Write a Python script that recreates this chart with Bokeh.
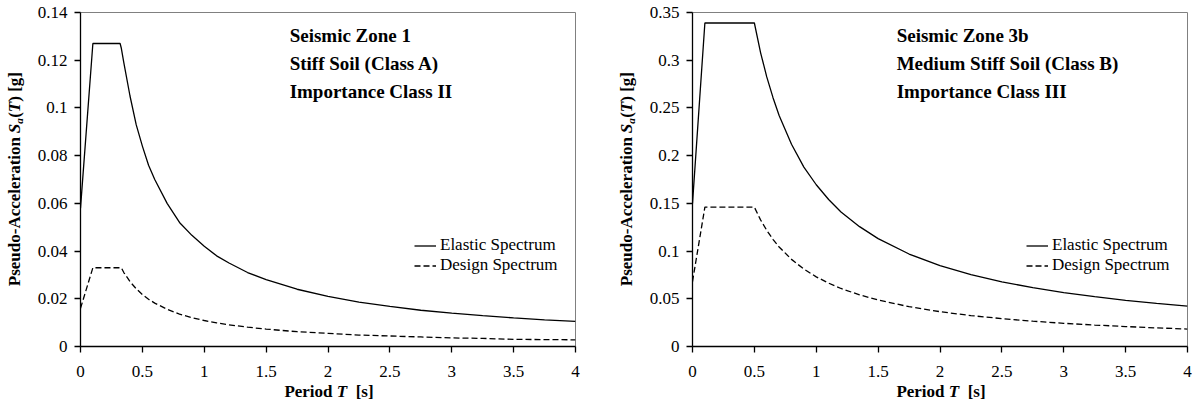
from bokeh.plotting import figure
from bokeh.layouts import row, column
from bokeh.models import Range1d, FixedTicker, NumeralTickFormatter, Legend, LegendItem, Label, Div
from bokeh.embed import file_html
from bokeh.resources import INLINE

# ---- Data ----
# Zone 1, Soil A, Importance II
period_1 = [0, 0.1, 0.32, 0.33, 0.35, 0.4, 0.45, 0.5, 0.55, 0.6, 0.7, 0.8, 0.9, 1.0,
            1.1, 1.2, 1.35, 1.5, 1.75, 2.0, 2.25, 2.5, 2.75, 3.0, 3.25, 3.5, 3.75, 4.0]
elastic_1 = [0.058, 0.127, 0.127, 0.125, 0.119, 0.105, 0.093, 0.084, 0.076, 0.070, 0.060,
             0.052, 0.0466, 0.042, 0.038, 0.035, 0.031, 0.028, 0.024, 0.021, 0.0186, 0.0168,
             0.0152, 0.014, 0.0129, 0.012, 0.0112, 0.0105]
design_1 = [0.016, 0.033, 0.033, 0.033, 0.031, 0.0272, 0.0242, 0.0218, 0.0198, 0.0182, 0.0156,
            0.0136, 0.0121, 0.0109, 0.0099, 0.0091, 0.0081, 0.0073, 0.0062, 0.0055, 0.0048,
            0.0044, 0.0040, 0.0036, 0.0034, 0.0030, 0.0029, 0.0028]

# Zone 3b, Soil B, Importance III
period_3b = [0, 0.1, 0.5, 0.55, 0.6, 0.65, 0.7, 0.8, 0.9, 1.0, 1.1, 1.2, 1.35, 1.5, 1.75,
             2.0, 2.25, 2.5, 2.75, 3.0, 3.25, 3.5, 3.75, 4.0]
elastic_3b = [0.15, 0.339, 0.339, 0.308, 0.2825, 0.261, 0.242, 0.212, 0.188, 0.1695, 0.154,
              0.141, 0.1256, 0.113, 0.0969, 0.0848, 0.0753, 0.0678, 0.0616, 0.0565, 0.0522,
              0.0484, 0.0452, 0.0424]
design_3b = [0.068, 0.146, 0.146, 0.1327, 0.1217, 0.1123, 0.1043, 0.0913, 0.0811, 0.073,
             0.0664, 0.0608, 0.0541, 0.0487, 0.0417, 0.0365, 0.0324, 0.0292, 0.0265, 0.0243,
             0.0225, 0.0209, 0.0195, 0.0183]

x_ticks = [0, 0.5, 1, 1.5, 2, 2.5, 3, 3.5, 4]
y_ticks_1 = [0, 0.02, 0.04, 0.06, 0.08, 0.1, 0.12, 0.14]
y_ticks_3b = [0, 0.05, 0.1, 0.15, 0.2, 0.25, 0.3, 0.35]

titles_1 = ["Seismic Zone 1", "Stiff Soil (Class A)", "Importance Class II"]
titles_3b = ["Seismic Zone 3b", "Medium Stiff Soil (Class B)", "Importance Class III"]

series_labels = ["Elastic Spectrum", "Design Spectrum"]

x_title_html = "Period <i>T</i>&nbsp; [s]"
y_title_html = "Pseudo-Acceleration <i>S<sub style='font-size:11px'>a</sub></i>(<i>T</i>) [g]"

FONT = "Liberation Serif"
LABEL_W = 32
FIG_H = 386
XLAB_H = 19


def y_title_div():
    html = ("<div style=\"width:%dpx;height:358px;display:flex;align-items:center;"
            "justify-content:center;\"><div style=\"writing-mode:vertical-rl;"
            "transform:rotate(180deg);white-space:nowrap;font-family:'Liberation Serif',serif;"
            "font-weight:bold;font-size:17px;color:black;line-height:1;\">%s</div></div>"
            % (LABEL_W, y_title_html))
    return Div(text=html, width=LABEL_W, height=FIG_H, margin=0)


def x_title_div(width, center):
    html = ("<div style=\"position:relative;width:%dpx;height:%dpx;\">"
            "<span style=\"position:absolute;left:%dpx;top:0px;transform:translateX(-50%%);"
            "white-space:nowrap;font-family:'Liberation Serif',serif;font-weight:bold;"
            "font-size:17px;line-height:12px;color:black;\">%s</span></div>"
            % (width, XLAB_H, center, x_title_html))
    return Div(text=html, width=width, height=XLAB_H, margin=0)


def make_chart(period, elastic, design, yticks, ymax, titles, title_x, title_ys,
               width, border_right):
    p = figure(width=width, height=FIG_H, x_range=Range1d(0, 4), y_range=Range1d(0, ymax),
               output_backend="svg", toolbar_location=None,
               min_border_left=48, min_border_right=border_right,
               min_border_top=12, min_border_bottom=FIG_H - 346, margin=0)
    p.xgrid.visible = False
    p.ygrid.visible = False
    p.background_fill_color = "white"
    p.border_fill_color = "white"
    p.outline_line_color = "#808080"
    p.outline_line_width = 1

    r_el = p.line(period, elastic, line_color="black", line_width=1.3)
    r_de = p.line(period, design, line_color="black", line_width=1.3, line_dash="6 3")

    p.xaxis.ticker = FixedTicker(ticks=x_ticks)
    p.yaxis.ticker = FixedTicker(ticks=yticks)
    p.xaxis.formatter = NumeralTickFormatter(format="0.[0]")
    p.yaxis.formatter = NumeralTickFormatter(format="0.[00]")

    for ax in (p.xaxis, p.yaxis):
        ax.axis_line_color = "black"
        ax.axis_line_width = 1.3
        ax.major_tick_line_color = "black"
        ax.major_tick_line_width = 1.3
        ax.major_tick_out = 6
        ax.major_tick_in = 0
        ax.minor_tick_line_color = None
        ax.major_label_text_font = FONT
        ax.major_label_text_font_size = "17px"
        ax.major_label_text_color = "black"

    p.xaxis.major_label_standoff = 13
    p.yaxis.major_label_standoff = 7

    legend = Legend(items=[LegendItem(label=series_labels[0], renderers=[r_el]),
                           LegendItem(label=series_labels[1], renderers=[r_de])],
                    location=(334, 71))
    legend.background_fill_alpha = 0
    legend.border_line_alpha = 0
    legend.label_text_font = FONT
    legend.label_text_font_size = "17px"
    legend.label_text_color = "black"
    legend.glyph_width = 22
    legend.glyph_height = 19
    legend.label_height = 19
    legend.label_standoff = 4
    legend.padding = 0
    legend.spacing = 0
    legend.margin = 0
    p.add_layout(legend)

    for txt, yv in zip(titles, title_ys):
        p.add_layout(Label(x=title_x, y=yv, text=txt, text_font=FONT,
                           text_font_style="bold", text_font_size="19px",
                           text_color="black", text_baseline="middle"))
    return p


p1 = make_chart(period_1, elastic_1, design_1, y_ticks_1, 0.14, titles_1, 1.69,
                [0.1302, 0.1187, 0.1070], width=612 - LABEL_W, border_right=37)
p2 = make_chart(period_3b, elastic_3b, design_3b, y_ticks_3b, 0.35, titles_3b, 1.65,
                [0.3255, 0.2968, 0.2675], width=581 - LABEL_W, border_right=6)

left = column(row(y_title_div(), p1, spacing=0), x_title_div(612, 329), spacing=0)
right = column(row(y_title_div(), p2, spacing=0), x_title_div(581, 329), spacing=0)
layout = row(left, right, spacing=0)
open("out.html", "w").write(file_html(layout, INLINE))
